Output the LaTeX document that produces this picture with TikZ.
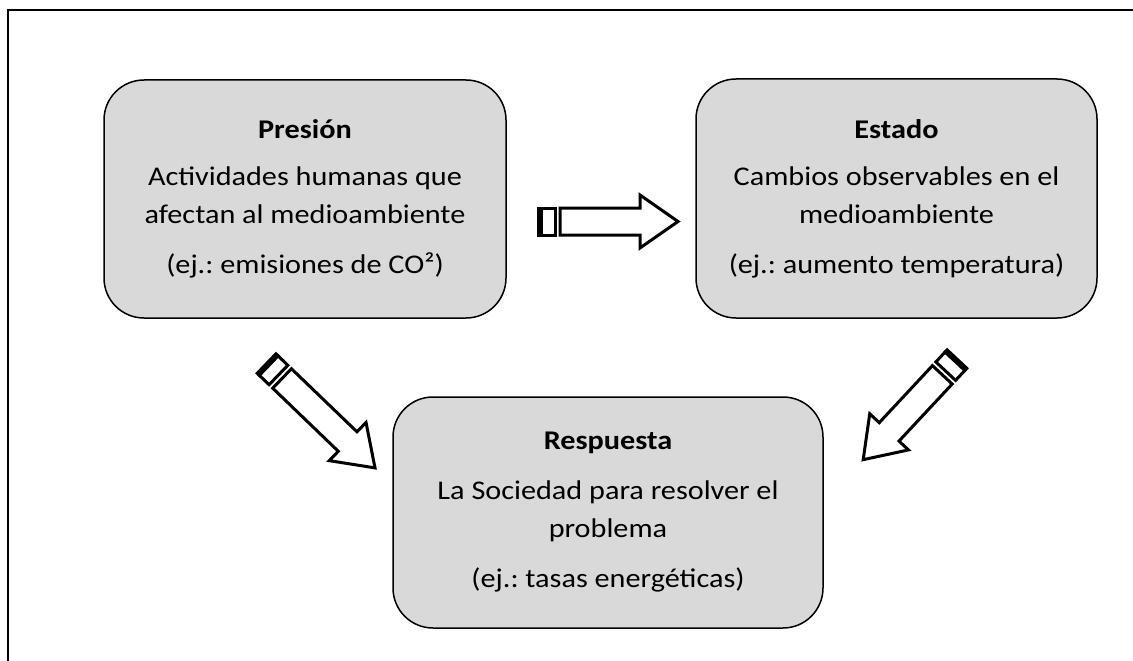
\documentclass[tikz,border=0pt]{standalone}
\usepackage{fontspec}
\setmainfont{Carlito}[FakeStretch=1.12]
\usetikzlibrary{positioning}

\definecolor{boxgray}{RGB}{217,217,217}

\tikzset{
  block/.style={draw, line width=1.5pt, fill=boxgray, rounded corners=40pt,
    align=center, inner sep=0pt, font=\fontsize{27}{38}\selectfont},
  arrowline/.style={draw, fill=white, line width=3pt, line join=miter},
  striped arrow/.pic={
    \draw[arrowline] (1.5,-13.5) rectangle (4.5,13.5);
    \draw[arrowline] (4.5,-13.5) rectangle (18,13.5);
    \draw[arrowline] (23,-13.5) -- ({#1-38},-13.5) -- ({#1-38},-26.5) -- (#1,0)
      -- ({#1-38},26.5) -- ({#1-38},13.5) -- (23,13.5) -- cycle;
  }
}

\begin{document}
\frenchspacing
\begin{tikzpicture}[x=1pt, y=-1pt]
\useasboundingbox (0,0) rectangle (1133,661);

% Frame
\draw [line width=1.5pt] (1133,10) -- (8,10) -- (8,661);

% Boxes
\node [block, minimum width=402pt, minimum height=238pt] (pres) at (305,199)
  {\textbf{Presión}\\[9pt] Actividades humanas que\\ afectan al medioambiente\\[12pt] (ej.: emisiones de CO²)};
\node [block, minimum width=401pt, minimum height=239pt] (est) at (896.5,198.5)
  {\textbf{Estado}\\[9pt] Cambios observables en el\\ medioambiente\\[12pt] (ej.: aumento temperatura)};
\node [block, minimum width=430pt, minimum height=231pt] (resp) at (608,512.5)
  {\textbf{Respuesta}\\[12pt] La Sociedad para resolver el\\ problema\\[12pt] (ej.: tasas energéticas)};

% Arrows
\pic at (537,221.5) {striped arrow=141};
\pic [rotate=-43.9] at (265.5,362.5) {striped arrow=152};
\pic [rotate=-133] at (958,358) {striped arrow=139};

\end{tikzpicture}
\end{document}
